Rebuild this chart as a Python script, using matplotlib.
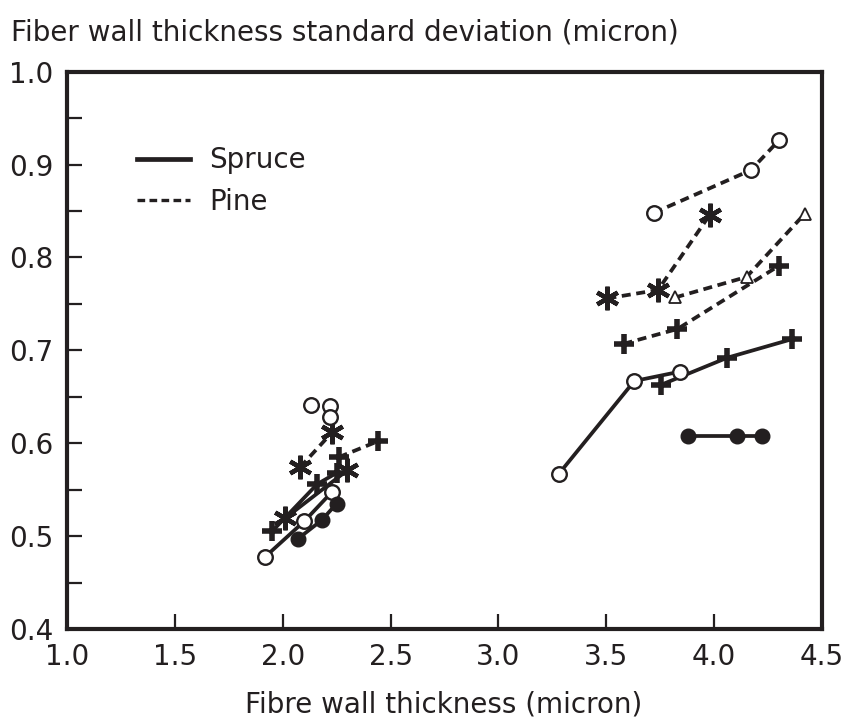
import numpy as np
import matplotlib.pyplot as plt
from matplotlib.lines import Line2D
from matplotlib.ticker import MultipleLocator, FormatStrFormatter

# Spruce (solid lines)
spruce_open_x = [1.92, 2.10, 2.23]
spruce_open_y = [0.478, 0.516, 0.548]
spruce_dot_x = [2.07, 2.18, 2.25]
spruce_dot_y = [0.497, 0.517, 0.535]
spruce_plus_x = [1.95, 2.16, 2.25]
spruce_plus_y = [0.505, 0.556, 0.568]
spruce_star_x = [2.01, 2.30]
spruce_star_y = [0.519, 0.571]

spruce_open2_x = [3.28, 3.63, 3.84]
spruce_open2_y = [0.567, 0.667, 0.677]
spruce_plus2_x = [3.755, 4.06, 4.36]
spruce_plus2_y = [0.663, 0.692, 0.712]
spruce_dot2_x = [3.88, 4.105, 4.22]
spruce_dot2_y = [0.608, 0.608, 0.608]

# Pine (dashed lines)
pine_open_x = [2.13, 2.22, 2.22]
pine_open_y = [0.641, 0.640, 0.628]
pine_star_x = [2.08, 2.23]
pine_star_y = [0.574, 0.612]
pine_plus_x = [2.26, 2.44]
pine_plus_y = [0.585, 0.602]

pine_open2_x = [3.72, 4.17, 4.30]
pine_open2_y = [0.848, 0.894, 0.926]
pine_star2_x = [3.505, 3.74, 3.98]
pine_star2_y = [0.756, 0.765, 0.846]
pine_tri2_x = [3.82, 4.15, 4.42]
pine_tri2_y = [0.757, 0.779, 0.847]
pine_plus2_x = [3.58, 3.83, 4.30]
pine_plus2_y = [0.707, 0.723, 0.791]

ink = '#231f20'
lw = 2.7
dash = (2.4, 1.5)
fs = 20

plt.rcParams['font.family'] = 'DejaVu Sans'

fig = plt.figure(figsize=(8.46, 7.22), dpi=100)
ax = fig.add_axes([67/846, 1-629/722, (822-67)/846, (629-71.7)/722])

open_c = dict(marker='o', ms=10.5, mfc='white', mec=ink, mew=1.7)
dot_c = dict(marker='o', ms=10.5, mfc=ink, mec=ink, mew=1.0)
plus_m = dict(marker='+', ms=15, mec=ink, mew=4.0)
star_m = dict(marker=(6, 2, 0), ms=17, mec=ink, mew=3.2)
tri_m = dict(marker='^', ms=8.5, mfc='white', mec=ink, mew=1.3)

solid = dict(color=ink, lw=lw, ls='-')
dashed = dict(color=ink, lw=lw, ls=(0, dash))

# spruce
ax.plot(spruce_plus_x, spruce_plus_y, **solid, **plus_m)
ax.plot(spruce_star_x, spruce_star_y, **solid, **star_m)
ax.plot(spruce_open_x, spruce_open_y, **solid, **open_c)
ax.plot(spruce_dot_x, spruce_dot_y, **solid, **dot_c)
ax.plot(spruce_plus2_x, spruce_plus2_y, **solid, **plus_m)
ax.plot(spruce_open2_x, spruce_open2_y, **solid, **open_c)
ax.plot(spruce_dot2_x, spruce_dot2_y, **solid, **dot_c)

# pine
ax.plot(pine_star_x, pine_star_y, **dashed, **star_m)
ax.plot(pine_plus_x, pine_plus_y, **dashed, **plus_m)
ax.plot(pine_open_x, pine_open_y, **dashed, **open_c)
ax.plot(pine_open2_x, pine_open2_y, **dashed, **open_c)
ax.plot(pine_star2_x, pine_star2_y, **dashed, **star_m)
ax.plot(pine_tri2_x, pine_tri2_y, **dashed, **tri_m)
ax.plot(pine_plus2_x, pine_plus2_y, **dashed, **plus_m)

ax.set_xlim(1.0, 4.5)
ax.set_ylim(0.4, 1.0)
ax.xaxis.set_major_locator(MultipleLocator(0.5))
ax.xaxis.set_major_formatter(FormatStrFormatter('%.1f'))
ax.yaxis.set_major_locator(MultipleLocator(0.1))
ax.yaxis.set_minor_locator(MultipleLocator(0.05))
ax.yaxis.set_major_formatter(FormatStrFormatter('%.1f'))

ax.tick_params(axis='both', which='both', direction='in', length=11, width=1.6,
               color=ink, labelcolor=ink, labelsize=fs, top=False, right=False)
ax.tick_params(axis='x', pad=10)
ax.tick_params(axis='y', pad=10)
for s in ax.spines.values():
    s.set_linewidth(3)
    s.set_color(ink)

handles = [Line2D([], [], color=ink, lw=3.4, ls='-'),
           Line2D([], [], color=ink, lw=2.4, ls=(0, (2.3, 1.3)))]
ax.legend(handles, ['Spruce', 'Pine'], loc='upper left', bbox_to_anchor=(0.06, 0.911),
          frameon=False, fontsize=fs, handlelength=1.9, handletextpad=0.7,
          labelspacing=0.5, labelcolor=ink)

fig.text(11/846, 1-33/722, 'Fiber wall thickness standard deviation (micron)',
         fontsize=fs, color=ink, va='center', ha='left')
fig.text(444/846, 1-704/722, 'Fibre wall thickness (micron)',
         fontsize=fs, color=ink, va='center', ha='center')

fig.savefig('out.png', dpi=100)
